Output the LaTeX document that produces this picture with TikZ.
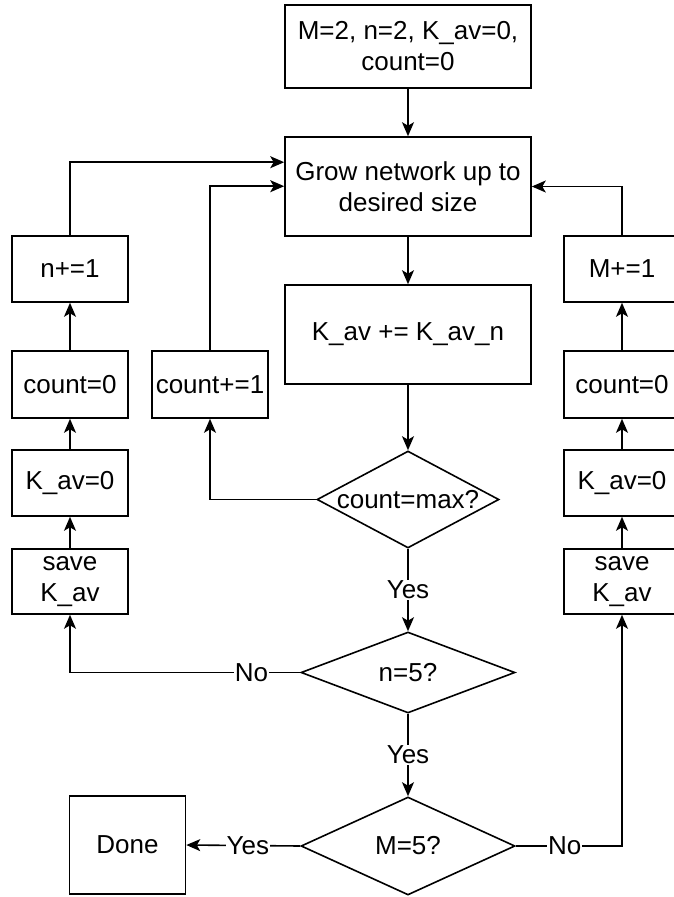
\documentclass[tikz,border=0pt]{standalone}
\usepackage{fontspec}
\setmainfont{Liberation Sans}
\usetikzlibrary{arrows.meta,shapes.geometric}

\tikzset{
  box/.style={draw, line width=1.6pt, minimum width=116pt, minimum height=66pt,
    inner sep=0pt, align=center, font=\fontsize{26}{31}\selectfont},
  widebox/.style={box, minimum width=246pt, minimum height=99pt},
  decision/.style={draw, diamond, line width=1.6pt, inner sep=0pt, aspect=2,
    font=\fontsize{26}{31}\selectfont},
  flow/.style={line width=1.6pt, -{Stealth[length=14pt,width=12pt,inset=3.5pt]}},
  edgelabel/.style={fill=white, inner sep=1pt, font=\fontsize{26}{31}\selectfont}
}

\begin{document}
\begin{tikzpicture}[x=1pt, y=-1pt]
  \useasboundingbox (0,0) rectangle (673,897);

  % main column
  \node[widebox, minimum height=83pt] (init) at (408,46.5) {M=2, n=2, K\_av=0,\\count=0};
  \node[widebox] (grow) at (408,186.5) {Grow network up to\\desired size};
  \node[widebox] (acc) at (408,334.5) {K\_av += K\_av\_n};
  \node[decision, minimum width=182pt, minimum height=97pt] (cmax) at (408,499.5) {count=max?};
  \node[decision, minimum width=214pt, minimum height=81pt] (nfive) at (408,672.5) {n=5?};
  \node[decision, minimum width=214pt, minimum height=98pt] (mfive) at (408,846) {M=5?};
  \node[box, minimum height=98pt] (done) at (127.5,845) {Done};

  % left column (n loop)
  \node[box] (ninc) at (70,269) {n+=1};
  \node[box, minimum height=67pt] (nzero) at (70,384.5) {count=0};
  \node[box] (nkav) at (70,483) {K\_av=0};
  \node[box, minimum height=65pt] (nsave) at (70,581.5) {save\\K\_av};

  % inner counter
  \node[box, minimum height=67pt] (cinc) at (210,384.5) {count+=1};

  % right column (M loop)
  \node[box] (minc) at (622,269) {M+=1};
  \node[box, minimum height=67pt] (mzero) at (622,384.5) {count=0};
  \node[box] (mkav) at (622,483) {K\_av=0};
  \node[box, minimum height=65pt] (msave) at (622,581.5) {save\\K\_av};

  % connectors
  \draw[flow] (init) -- (grow);
  \draw[flow] (grow) -- (acc);
  \draw[flow] (acc) -- (cmax);
  \draw[flow] (cmax.west) -| (cinc.south);
  \draw[flow] (cinc.north) |- ([yshift=-50pt]grow.north west);
  \draw[flow] (cmax.south) -- node[edgelabel] {Yes} (nfive.north);
  \draw[flow] (nfive.west) -| node[edgelabel, pos=0.106] {No} (nsave.south);
  \draw[flow] (nsave) -- (nkav);
  \draw[flow] (nkav) -- (nzero);
  \draw[flow] (nzero) -- (ninc);
  \draw[flow] (ninc.north) |- ([yshift=-26pt]grow.north west);
  \draw[flow] (nfive.south) -- node[edgelabel] {Yes} (mfive.north);
  \draw[flow] (mfive.west) -- node[edgelabel, pos=0.46] {Yes} (done.east);
  \draw[flow] (mfive.east) -| node[edgelabel, pos=0.23] {No} (msave.south);
  \draw[flow] (msave) -- (mkav);
  \draw[flow] (mkav) -- (mzero);
  \draw[flow] (mzero) -- (minc);
  \draw[flow] (minc.north) |- (grow.east);
\end{tikzpicture}
\end{document}
